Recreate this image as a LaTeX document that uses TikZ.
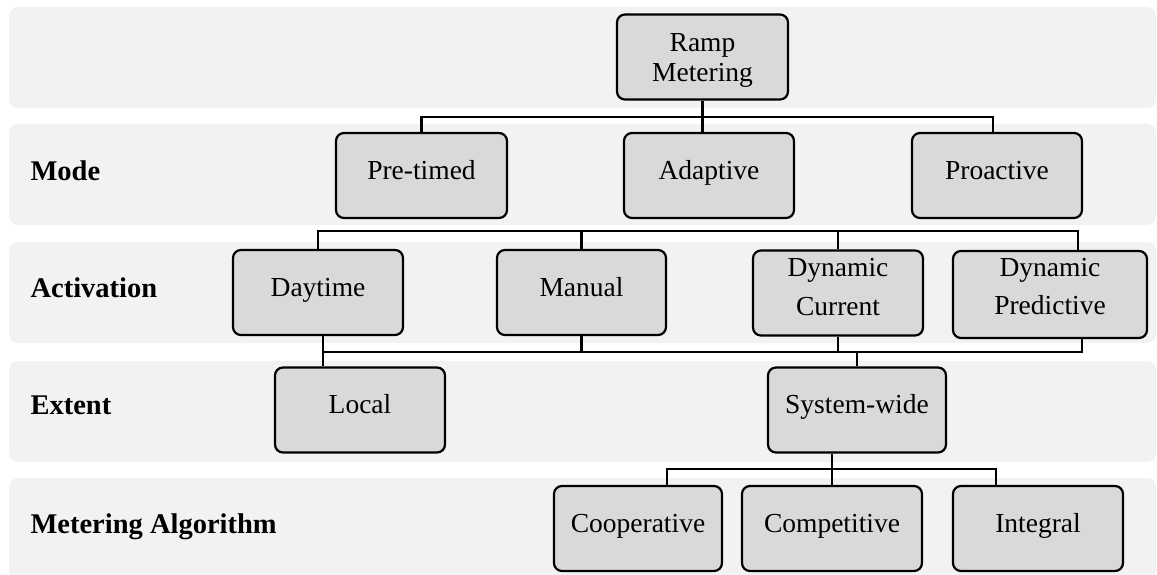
\documentclass[tikz,border=0pt]{standalone}
\usepackage{fontspec}
\setmainfont{Liberation Serif}
\usetikzlibrary{calc}

\definecolor{bandgray}{HTML}{F2F2F2}
\definecolor{boxgray}{HTML}{D9D9D9}

\tikzset{
  band/.style={fill=bandgray, rounded corners=9pt},
  catbox/.style={draw, fill=boxgray, line width=2.2pt, rounded corners=8pt,
    inner sep=0pt, minimum height=85pt, align=center,
    font=\fontsize{27.5}{29.5}\selectfont},
  oneline/.style={text height=19pt, text depth=12pt},
  rowlabel/.style={anchor=base west, font=\fontsize{28.5}{30}\selectfont\bfseries},
  link/.style={line width=2.2pt}
}

\begin{document}
\begin{tikzpicture}[x=1pt, y=-1pt]
  \useasboundingbox (0,0) rectangle (1157,575);

  % rows
  \foreach \t in {7,124,242,361,478}
    \fill [band] (9,\t) rectangle (1156,\t+101);

  \node [rowlabel] (mode)   at (27,180) {Mode};
  \node [rowlabel] (activ)  at (27,297) {Activation};
  \node [rowlabel] (extent) at (27,414) {Extent};
  \node [rowlabel] (algo)   at (27,533) {Metering Algorithm};

  % boxes
  \node [catbox, minimum width=171pt]          (ramp)      at (702.5,57)    {\rule{0pt}{25pt}Ramp\\Metering};

  \node [catbox, oneline, minimum width=171pt] (pretimed)  at (421.5,175.5) {Pre-timed};
  \node [catbox, oneline, minimum width=170pt] (adaptive)  at (709,175.5)   {Adaptive};
  \node [catbox, oneline, minimum width=170pt] (proactive) at (997,175.5)   {Proactive};

  \node [catbox, oneline, minimum width=170pt] (daytime)   at (318,292.5)   {Daytime};
  \node [catbox, oneline, minimum width=169pt] (manual)    at (581.5,292.5) {Manual};
  \node [catbox, minimum width=170pt]          (dyncur)    at (838,293)     {Dynamic\\[10pt]Current\rule[-12pt]{0pt}{12pt}};
  \node [catbox, minimum width=194pt, minimum height=87pt]
                                               (dynpred)   at (1050,294.5)  {Dynamic\\[9pt]Predictive\rule[-16pt]{0pt}{16pt}};

  \node [catbox, oneline, minimum width=170pt] (local)     at (360,410)     {Local};
  \node [catbox, oneline, minimum width=178pt] (system)    at (857,410)     {System-wide};

  \node [catbox, oneline, minimum width=168pt] (coop)      at (638,528.5)   {Cooperative};
  \node [catbox, oneline, minimum width=180pt] (comp)      at (832,528.5)   {Competitive};
  \node [catbox, oneline, minimum width=170pt] (integral)  at (1038,528.5)  {Integral};

  % buses
  \coordinate (busA) at (0,117);
  \coordinate (busB) at (0,231);
  \coordinate (busC) at (0,352);
  \coordinate (busD) at (0,469);

  \draw [link] (ramp.south) -- (ramp.south |- adaptive.north);
  \draw [link] (pretimed.north) -- (pretimed.north |- busA) -| ([xshift=-4pt]proactive.north);

  \draw [link] (daytime.north) -- (daytime.north |- busB) -| ([xshift=28pt]dynpred.north);
  \foreach \n in {manual,dyncur}
    \draw [link] (\n.north) -- (\n.north |- busB);

  \draw [link] ([xshift=5pt]daytime.south) -- ([xshift=5pt]daytime.south |- local.north);
  \draw [link] ([xshift=5pt]daytime.south |- busC) -| ([xshift=32pt]dynpred.south);
  \foreach \n in {manual,dyncur}
    \draw [link] (\n.south) -- (\n.south |- busC);
  \draw [link] (system.north) -- (system.north |- busC);

  \draw [link] (system.south -| comp.north) -- (comp.north);
  \draw [link] ([xshift=29pt]coop.north) -- ([xshift=29pt]coop.north |- busD) -| ([xshift=-42pt]integral.north);
\end{tikzpicture}
\end{document}
